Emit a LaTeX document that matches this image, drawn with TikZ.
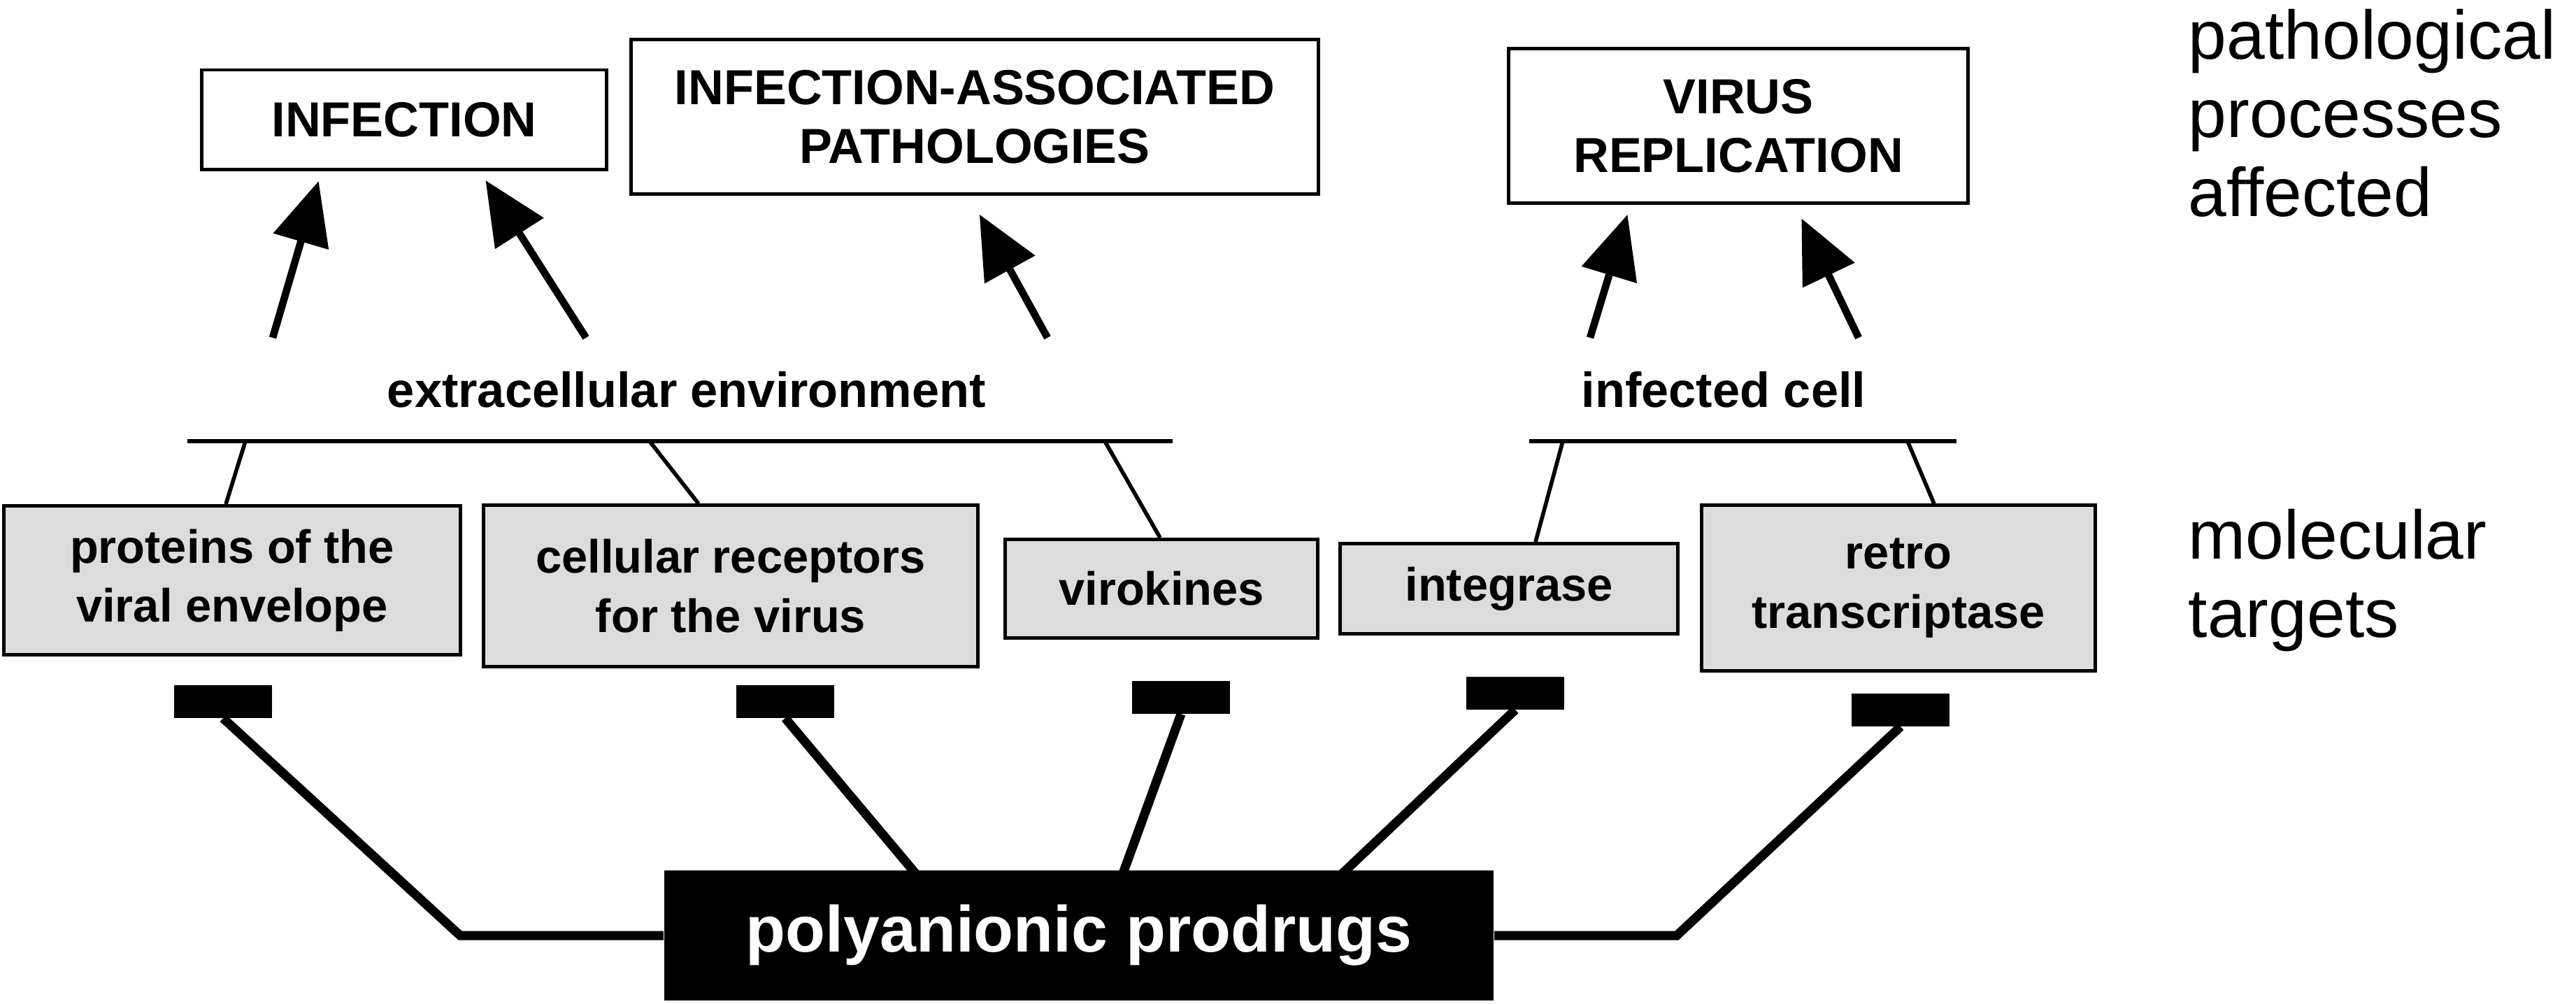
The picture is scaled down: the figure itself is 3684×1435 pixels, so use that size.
\documentclass[tikz,border=0pt]{standalone}
\usepackage{fontspec}
\setmainfont{Liberation Sans}
\usetikzlibrary{calc,arrows.meta}
\definecolor{targetgray}{RGB}{220,220,220}
\tikzset{
  process/.style={draw, line width=1.4pt, fill=white, inner sep=0pt, align=center, font=\fontsize{20}{24}\selectfont\bfseries},
  target/.style={draw, line width=1.4pt, fill=targetgray, inner sep=0pt, align=center, font=\fontsize{19}{24}\selectfont\bfseries},
  blocker/.style={fill=black, inner sep=0pt, minimum width=1.4cm, minimum height=0.47cm},
  site/.style={inner sep=0pt, font=\fontsize{20}{24}\selectfont\bfseries},
  level/.style={anchor=north west, inner sep=0pt, align=left, font=\fontsize{28}{32}\selectfont},
  effect/.style={line width=3pt, -{Triangle[length=0.9cm,width=0.8cm]}},
  bar/.style={line width=1.6pt},
  link/.style={line width=1.6pt},
  drug/.style={line width=3.7pt, line join=miter}
}
\begin{document}
\begin{tikzpicture}[x=0.01cm, y=-0.01cm]

        \useasboundingbox (0,0) rectangle (3684,1435);

        \node (infection) [process, minimum width=5.79cm, minimum height=1.42cm] at (578,171) {INFECTION};
        \node (iapath) [process, minimum width=9.83cm, minimum height=2.2cm] at (1394,167) {INFECTION-ASSOCIATED\\PATHOLOGIES};
        \node (virrep) [process, minimum width=6.57cm, minimum height=2.2cm] at (2486,180) {VIRUS\\REPLICATION};

        \node (processes) [level] at (3129,12) {pathological\\processes\\affected};
        \node (targets) [level] at (3129,727) {molecular\\targets};

        \node (extra) [site] at (982,557) {extracellular environment};
        \node (cell) [site] at (2465,557) {infected cell};

        \node (envelope) [target, minimum width=6.52cm, minimum height=2.13cm] at (332,830) {proteins of the\\viral envelope};
        \node (receptors) [target, minimum width=7.06cm, minimum height=2.3cm] at (1045,838) {cellular receptors\\for the virus};
        \node (virokines) [target, minimum width=4.47cm, minimum height=1.41cm] at (1661,842) {virokines};
        \node (integrase) [target, minimum width=4.83cm, minimum height=1.29cm] at (2158,842) {integrase};
        \node (rt) [target, minimum width=5.62cm, minimum height=2.36cm] at (2715,841) {retro\\transcriptase};

        \node (sq1) [blocker] at (319,1003) {};
        \node (sq2) [blocker] at (1123,1003) {};
        \node (sq3) [blocker] at (1689,997) {};
        \node (sq4) [blocker] at (2167,991) {};
        \node (sq5) [blocker] at (2718,1015) {};

        \node (prodrugs) [fill=black, text=white, inner sep=0pt, minimum width=11.86cm, minimum height=1.85cm, font=\fontsize{26.5}{30}\selectfont\bfseries] at (1543,1338) {polyanionic prodrugs};

        % arrows up to the processes
        \coordinate (a1) at (390,483);
        \coordinate (a2) at (838,483);
        \coordinate (a3) at (1498,483);
        \coordinate (a4) at (2274,483);
        \coordinate (a5) at (2658,483);
        \draw[effect, shorten >=0.15cm] (a1) -- ($(infection.south west)+(174,0)$);
        \draw[effect, shorten >=0.16cm] (a2) -- ($(infection.south west)+(400,0)$);
        \draw[effect, shorten >=0.31cm] (a3) -- ($(iapath.south west)+(486,0)$);
        \draw[effect, shorten >=0.15cm] (a4) -- ($(virrep.south west)+(177,0)$);
        \draw[effect, shorten >=0.22cm] (a5) -- ($(virrep.south west)+(412,0)$);

        % bars and targets
        \coordinate (extraL) at (268,631);
        \coordinate (extraR) at (1677,631);
        \coordinate (cellL) at (2187,631);
        \coordinate (cellR) at (2798,631);
        \draw[bar] (extraL) -- (extraR);
        \draw[bar] (cellL) -- (cellR);

        \draw[link] ($(extraL)+(83,0)$) -- ($(envelope.north)+(-9,0)$);
        \draw[link] ($(extraL)+(661,0)$) -- ($(receptors.north)+(-46,0)$);
        \draw[link] ($(extraL)+(1312,0)$) -- ($(virokines.north)+(-2,0)$);
        \draw[link] ($(cellL)+(48,0)$) -- ($(integrase.north)+(38,0)$);
        \draw[link] ($(cellL)+(541,0)$) -- ($(rt.north)+(51,0)$);

        % prodrug links
        \coordinate (bendL) at (658,1338);
        \coordinate (bendR) at (2398,1338);
        \draw[drug] (sq1.south) -- (bendL) -- (prodrugs.west);
        \draw[drug] (sq2.south) -- ($(prodrugs.north west)+(365,10)$);
        \draw[drug] (sq3.south) -- ($(prodrugs.north west)+(655,10)$);
        \draw[drug] (sq4.south) -- ($(prodrugs.north west)+(965,10)$);
        \draw[drug] (sq5.south) -- (bendR) -- (prodrugs.east);

\end{tikzpicture}
\end{document}
